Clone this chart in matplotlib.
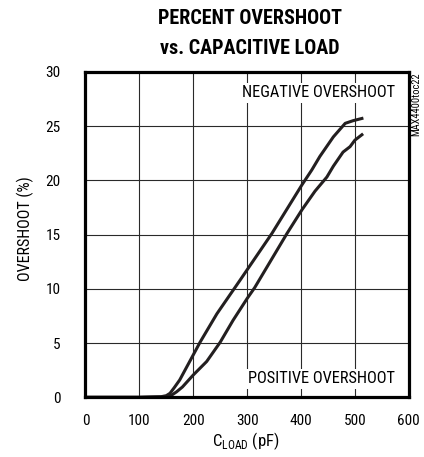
import matplotlib
matplotlib.use("Agg")
import matplotlib.pyplot as plt
from matplotlib import font_manager

# ---- data ----
neg_c = [0, 100, 140, 150, 157, 165, 175, 200, 213, 244, 287, 346, 402, 420, 435, 460, 482, 497, 513]
neg_os = [0, 0, 0.05, 0.15, 0.37, 0.9, 1.6, 3.9, 5.1, 7.7, 10.8, 15.1, 19.6, 20.95, 22.2, 24.0, 25.25, 25.5, 25.7]
pos_c = [0, 100, 150, 160, 169, 180, 200, 225, 250, 274, 300, 314, 374, 402, 426, 448, 460, 478, 491, 500, 513]
pos_os = [0, 0, 0.05, 0.2, 0.5, 0.95, 2.05, 3.3, 5.07, 7.1, 9.1, 10.1, 15.1, 17.3, 19.0, 20.3, 21.3, 22.6, 23.1, 23.7, 24.2]
xticks = [0, 100, 200, 300, 400, 500, 600]
yticks = [0, 5, 10, 15, 20, 25, 30]

names = {f.name for f in font_manager.fontManager.ttflist}
FAM, STRETCH = ["DejaVu Sans"], "condensed"
for cand in ["Liberation Sans Narrow", "Roboto Condensed", "Open Sans Condensed"]:
    if cand in names:
        FAM, STRETCH = [cand, "DejaVu Sans"], "normal"
        break
plt.rcParams["font.family"] = FAM
plt.rcParams["font.stretch"] = STRETCH

W, H = 424, 457
fig = plt.figure(figsize=(W / 100, H / 100), dpi=100)
ax = fig.add_axes([85.4 / W, 1 - 397.3 / H, 323.4 / W, 325.5 / H])

ax.set_xlim(0, 600)
ax.set_ylim(0, 30)
ax.set_xticks(xticks)
ax.set_yticks(yticks)
ax.grid(True, color="#2a2a2a", lw=0.8, zorder=0)
ax.tick_params(length=0, labelsize=11, pad=12)
ax.tick_params(axis="y", pad=18)
for s in ax.spines.values():
    s.set_linewidth(2.3)
    s.set_zorder(5)

ax.plot(neg_c, neg_os, color="#231f20", lw=2.2, zorder=4)
ax.plot(pos_c, pos_os, color="#231f20", lw=2.2, zorder=4)

box = dict(facecolor="white", edgecolor="none", pad=1.5)
ax.text(574, 28.05, "NEGATIVE OVERSHOOT", ha="right", va="center",
        fontsize=11.8, bbox=box, zorder=3)
ax.text(574, 1.69, "POSITIVE OVERSHOOT", ha="right", va="center",
        fontsize=11.8, bbox=box, zorder=3)

fig.text(246 / W, 1 - 441 / H, "C$_{\\mathregular{LOAD}}$ (pF)",
         ha="center", va="center", fontsize=12)
fig.text(25 / W, 1 - 229 / H, "OVERSHOOT (%)", rotation=90,
         ha="center", va="center", fontsize=11.5)

fig.text(250 / W, 1 - 19 / H, "PERCENT OVERSHOOT",
         ha="center", va="center", fontsize=14.5, fontweight="bold")
fig.text(250 / W, 1 - 48 / H, "vs. CAPACITIVE LOAD",
         ha="center", va="center", fontsize=14.5, fontweight="bold")
fig.text(416 / W, 1 - 72 / H, "MAX4400toc22", rotation=90,
         ha="center", va="top", fontsize=7.5)

fig.savefig("out.png", dpi=100)
